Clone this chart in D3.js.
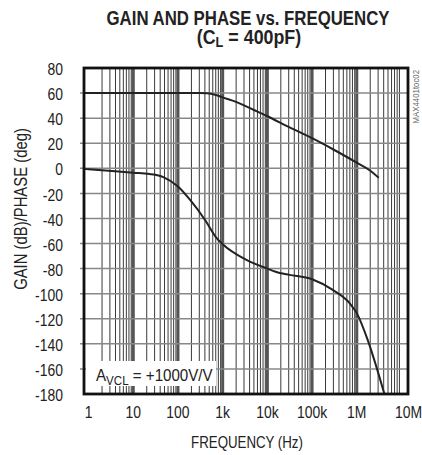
<!DOCTYPE html>
<html>
<head>
<meta charset="utf-8">
<script src="https://cdn.jsdelivr.net/npm/d3@7"></script>
<style>
  body { margin: 0; background: #fff; }
  text { font-family: "Liberation Sans", Arial, sans-serif; fill: #222; }
</style>
</head>
<body>
<svg id="chart" width="422" height="455"></svg>
<script>
// tick values / labels
const freqTicks = [1, 10, 100, 1e3, 1e4, 1e5, 1e6, 1e7];
const freqLabels = ["1", "10", "100", "1k", "10k", "100k", "1M", "10M"];
const yTicks = [80, 60, 40, 20, 0, -20, -40, -60, -80, -100, -120, -140, -160, -180];

// gain curve (dB)
const gainFreq = [0.79, 10, 100, 300, 450, 700, 1000, 2000, 5000, 1e4, 3e4, 1e5, 3e5, 1e6, 1.9e6, 3.1e6];
const gainDb   = [60, 60, 60, 60, 59.8, 58.5, 56.6, 53, 46.5, 41.5, 33, 24, 15, 4.5, -1.3, -7.5];

// phase curve (deg)
const phaseFreq = [0.79, 1, 10, 23, 47, 100, 185, 400, 725, 1000, 3400, 1e4, 1.9e4, 3.1e4, 1e5, 2.9e5, 6.9e5, 1e6, 1.76e6, 4.15e6];
const phaseDeg  = [-0.5, -0.8, -3.5, -4.5, -7, -14.5, -25, -41, -55.5, -60.5, -73, -80, -83.5, -85, -88.5, -97, -107.5, -115.5, -137, -180];

const svg = d3.select("#chart");

const plot = {left: 84, right: 408, top: 68, bottom: 394};

const x = d3.scaleLog().domain([0.79, 1.4e7]).range([plot.left, plot.right]);
const y = d3.scaleLinear().domain([-180, 80]).range([plot.bottom, plot.top]);

// no narrow font installed, so squeeze text horizontally
const narrow = 0.82;

// minor vertical grid (2..9 in every decade)
const minor = [];
freqTicks.slice(0, -1).forEach(d => {
  for (let k = 2; k <= 9; k++) minor.push(d * k);
});

const grid = svg.append("g");
grid.selectAll(".vminor").data(minor).join("line")
  .attr("x1", d => x(d)).attr("x2", d => x(d))
  .attr("y1", plot.top).attr("y2", plot.bottom)
  .attr("stroke", "#3a3a3a").attr("stroke-width", 1);

grid.selectAll(".vmajor").data(freqTicks.slice(1, -1)).join("line")
  .attr("x1", d => x(d)).attr("x2", d => x(d))
  .attr("y1", plot.top).attr("y2", plot.bottom)
  .attr("stroke", "#555").attr("stroke-width", 3);

// horizontal grid, with little ticks poking out left of the frame
grid.selectAll(".h").data(yTicks.slice(1, -1)).join("line")
  .attr("x1", plot.left - 4).attr("x2", plot.right)
  .attr("y1", d => y(d)).attr("y2", d => y(d))
  .attr("stroke", "#888").attr("stroke-width", 1.5);

// annotation box hides the grid behind it
svg.append("rect")
  .attr("x", plot.left + 2).attr("y", 361)
  .attr("width", 130).attr("height", 25)
  .attr("fill", "#fff");

const ann = svg.append("text")
  .attr("transform", "translate(96,381) scale(0.89,1)")
  .attr("font-size", 17);
ann.append("tspan").text("A");
ann.append("tspan").attr("font-size", 13).attr("dy", 4).text("VCL");
ann.append("tspan").attr("dy", -4).text(" = +1000V/V");

// curves
const line = d3.line()
  .x(d => x(d[0]))
  .y(d => y(d[1]))
  .curve(d3.curveMonotoneX);

svg.append("path")
  .datum(gainFreq.map((f, i) => [f, gainDb[i]]))
  .attr("d", line)
  .attr("fill", "none").attr("stroke", "#222").attr("stroke-width", 2);

svg.append("path")
  .datum(phaseFreq.map((f, i) => [f, phaseDeg[i]]))
  .attr("d", line)
  .attr("fill", "none").attr("stroke", "#222").attr("stroke-width", 2);

// frame
svg.append("rect")
  .attr("x", plot.left).attr("y", plot.top)
  .attr("width", plot.right - plot.left).attr("height", plot.bottom - plot.top)
  .attr("fill", "none").attr("stroke", "#111").attr("stroke-width", 2.8);

// y tick labels
svg.selectAll(".ylab").data(yTicks).join("text")
  .attr("transform", d => `translate(63,${y(d)}) scale(${narrow},1)`)
  .attr("dy", "0.42em")
  .attr("text-anchor", "end")
  .attr("font-size", 17)
  .text(d => d);

// x tick labels
svg.selectAll(".xlab").data(freqTicks).join("text")
  .attr("transform", (d, i) => `translate(${x(d) + (i === freqTicks.length - 1 ? 7 : 0)},418) scale(${narrow},1)`)
  .attr("text-anchor", "middle")
  .attr("font-size", 17)
  .text((d, i) => freqLabels[i]);

// axis titles
svg.append("text")
  .attr("transform", "translate(247,448) scale(0.83,1)")
  .attr("text-anchor", "middle")
  .attr("font-size", 16)
  .text("FREQUENCY (Hz)");

svg.append("text")
  .attr("transform", "translate(27,209) rotate(-90) scale(0.825,1)")
  .attr("text-anchor", "middle")
  .attr("font-size", 18)
  .text("GAIN (dB)/PHASE (deg)");

// chart title
svg.append("text")
  .attr("transform", "translate(248,25) scale(0.8,1)")
  .attr("text-anchor", "middle")
  .attr("font-size", 21).attr("font-weight", "bold")
  .text("GAIN AND PHASE vs. FREQUENCY");

const sub = svg.append("text")
  .attr("transform", "translate(249,44) scale(0.85,1)")
  .attr("text-anchor", "middle")
  .attr("font-size", 21).attr("font-weight", "bold");
sub.append("tspan").text("(C");
sub.append("tspan").attr("font-size", 15).attr("dy", 3).text("L");
sub.append("tspan").attr("dy", -3).text(" = 400pF)");

// figure id down the right edge
svg.append("text")
  .attr("transform", "translate(419,70) rotate(-90) scale(0.92,1)")
  .attr("text-anchor", "end")
  .attr("font-size", 8.5)
  .style("fill", "#666")
  .text("MAX4401toc02");
</script>
</body>
</html>
